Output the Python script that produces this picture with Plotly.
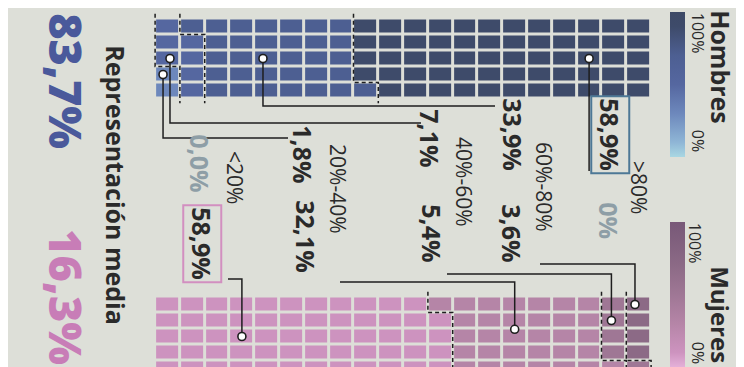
import plotly.graph_objects as go

# ---------------- data ----------------
categories = [">80%", "60%-80%", "40%-60%", "20%-40%", "<20%"]
bucket_mid = [90, 70, 50, 30, 10]            # colour value of each band
hombres_pct = [58.9, 33.9, 7.1, 1.8, 0.0]
mujeres_pct = [0.0, 3.6, 5.4, 32.1, 58.9]
hombres_cells = [59, 32, 7, 2, 0]            # squares drawn in the waffle
mujeres_cells = [0, 4, 5, 32, 59]
media_hombres = 83.7
media_mujeres = 16.3
legend_ticks = ["100%", "0%"]

# ---------------- layout constants (pixels) ----------------
W, H = 744, 367
COLS, ROWS = 20, 5
X0, PX = 159.5, 24.8          # centre of first column, column pitch
ROW0_H, ROW0_M, PY = 18.5, 296.5, 16.0
FONT = "Open Sans, Noto Sans, DejaVu Sans, sans-serif"
INK = "#2a2a2a"
GREY = "#8e9ea6"
BG = "#dddfd8"

scale_h = [[0.0, "#a9d7e2"], [0.1, "#8fb6d6"], [0.3, "#6d88bc"], [0.5, "#5567a0"],
           [0.7, "#4d5f92"], [0.9, "#3e4b6a"], [1.0, "#3d4966"]]
scale_m = [[0.0, "#e4b0d8"], [0.1, "#cd93bf"], [0.3, "#b585a7"], [0.5, "#9f7795"],
           [0.7, "#8c6a86"], [0.9, "#7e5e7c"], [1.0, "#785878"]]


def px2col(px):
    return (px - X0) / PX


def py2row(py, row0):
    return (py - row0) / PY


def fmt(v):
    return f"{v:.1f}".replace(".", ",") + "%"


def waffle(cells):
    z = [[None] * COLS for _ in range(ROWS)]
    i = 0
    for k, n in enumerate(cells):
        for _ in range(n):
            z[i % ROWS][COLS - 1 - i // ROWS] = bucket_mid[k]
            i += 1
    return z


def boundaries(cells, ext=0.3):
    out = []
    cum = 0
    for k in range(len(cells) - 1):
        cum += cells[k]
        if cells[k] == 0 or cum >= COLS * ROWS:
            continue
        q, m = divmod(cum, ROWS)
        c = COLS - 1 - q
        top, bot = -0.5 - ext, ROWS - 0.5 + ext
        if m == 0:
            out.append(([c + 0.5, c + 0.5], [top, bot]))
        else:
            out.append(([c - 0.5, c - 0.5, c + 0.5, c + 0.5], [top, m - 0.5, m - 0.5, bot]))
    return out


fig = go.Figure()

cb_common = dict(xanchor="left", yanchor="middle", lenmode="pixels", thickness=15,
                 thicknessmode="pixels", outlinewidth=0, showticklabels=False, ticks="",
                 xpad=0, ypad=0)

fig.add_trace(go.Heatmap(
    z=waffle(hombres_cells), x=list(range(COLS)), y=list(range(ROWS)),
    xaxis="x", yaxis="y", colorscale=scale_h, zmin=0, zmax=100, xgap=3, ygap=3,
    hoverinfo="skip",
    colorbar=dict(x=662 / W, y=1 - 76.5 / H, len=145, **cb_common)))
fig.add_trace(go.Heatmap(
    z=waffle(mujeres_cells), x=list(range(COLS)), y=list(range(ROWS)),
    xaxis="x", yaxis="y2", colorscale=scale_m, zmin=0, zmax=100, xgap=3, ygap=3,
    hoverinfo="skip",
    colorbar=dict(x=662 / W, y=1 - 286.5 / H, len=145, **cb_common)))

# dashed band boundaries
for cells, ya in ((hombres_cells, "y"), (mujeres_cells, "y2")):
    for xs, ys in boundaries(cells):
        fig.add_trace(go.Scatter(x=xs, y=ys, xaxis="x", yaxis=ya, mode="lines",
                                 line=dict(color="#1e1e1e", width=1.5, dash="4px,3px"),
                                 hoverinfo="skip", showlegend=False))

# leader lines: (band, anchor col, anchor row, elbow y px, end x px)
lead_h = [(0, 17, 2, 163, None), (1, 3.85, 2, 98, 487), (2, 0.1, 2, 115, 413),
          (3, -0.18, 3, 130, 280)]
lead_m = [(1, 18.85, 0, 256, 532), (2, 17.9, 1, 266, 439), (3, 14, 1.55, 274, 332),
          (4, 3, 2, 271, 220)]
for leads, ya, row0 in ((lead_h, "y", ROW0_H), (lead_m, "y2", ROW0_M)):
    ax, ay = [], []
    for k, c, r, ey, ex in leads:
        er = py2row(ey, row0)
        xs, ys = [c, c], [r, er]
        if ex is not None:
            xs.append(px2col(ex))
            ys.append(er)
        fig.add_trace(go.Scatter(x=xs, y=ys, xaxis="x", yaxis=ya, mode="lines",
                                 line=dict(color="#1e1e1e", width=1.5),
                                 hoverinfo="skip", showlegend=False))
        ax.append(c)
        ay.append(r)
    fig.add_trace(go.Scatter(x=ax, y=ay, xaxis="x", yaxis=ya, mode="markers",
                             marker=dict(size=8, color="white",
                                         line=dict(color="#1e1e1e", width=1.6)),
                             hoverinfo="skip", showlegend=False))

# ---------------- text ----------------
ann = []


def label(text, px, py, size, color=INK, weight=400, dx=None, **kw):
    if dx is None:
        dx = -0.2 * size
    dy = -(0.15 * size + 3)
    ann.append(dict(text=text, x=(px + dx) / W, y=1 - (py + dy) / H,
                    xref="paper", yref="paper",
                    xanchor="center", yanchor="middle", showarrow=False, textangle=90,
                    font=dict(family=FONT, size=size, color=color, weight=weight), **kw))


cat_pos = [(635, 186), (540, 185), (460, 180), (334, 187), (231, 176)]
h_pos = [(607, 133), (510, 134), (427, 137), (300, 153), (197, 162)]
m_pos = [(606, 219), (509, 232), (429, 232), (303, 235), (199, 242)]

for k, cat in enumerate(categories):
    label(cat, *cat_pos[k], 21)

hmax = hombres_pct.index(max(hombres_pct))
mmax = mujeres_pct.index(max(mujeres_pct))
for k, v in enumerate(hombres_pct):
    extra = dict(bordercolor="#4d7896", borderwidth=2, borderpad=1) if k == hmax else {}
    label(fmt(v), *h_pos[k], 25, color=GREY if v == 0 else INK, weight=700, **extra)
for k, v in enumerate(mujeres_pct):
    extra = dict(bordercolor="#d28fc0", borderwidth=2, borderpad=1) if k == mmax else {}
    label("0%" if v == 0 else fmt(v), *m_pos[k], 25, color=GREY if v == 0 else INK,
          weight=700, **extra)

label("Hombres", 718, 66, 25, weight=700)
label("Mujeres", 717, 313, 24, weight=700)
label(legend_ticks[0], 694, 31, 16)
label(legend_ticks[1], 694, 138, 16)
label(legend_ticks[0], 691, 241, 16)
label(legend_ticks[1], 694, 350, 16)

label("Representación media", 113, 184, 25, weight=700)
label(fmt(media_hombres), 63, 83, 45, color="#4a599b", weight=800, dx=-4)
label(fmt(media_mujeres), 63, 299, 45, color="#c87db7", weight=800, dx=-4)

ax_common = dict(visible=False, fixedrange=True)
fig.update_layout(
    width=W, height=H, margin=dict(l=0, r=0, t=0, b=0, pad=0, autoexpand=False),
    paper_bgcolor=BG, plot_bgcolor=BG, showlegend=False, annotations=ann,
    xaxis=dict(range=[px2col(0), px2col(W)], domain=[0, 1], **ax_common),
    yaxis=dict(range=[py2row(H, ROW0_H), py2row(0, ROW0_H)], domain=[0, 1], **ax_common),
    yaxis2=dict(range=[py2row(H, ROW0_M), py2row(0, ROW0_M)], domain=[0, 1],
                overlaying="y", **ax_common),
)

fig.write_html("out.html")
